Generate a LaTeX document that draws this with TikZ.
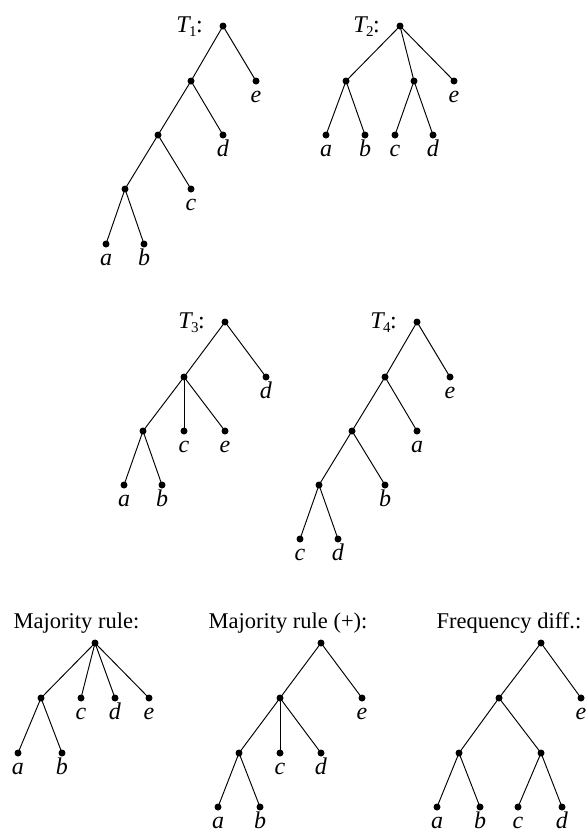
\documentclass[tikz,border=0pt]{standalone}
\usepackage{fontspec}
\setmainfont{Liberation Serif}
\usetikzlibrary{positioning}
\newcommand{\tname}[1]{\textit{T}\kern-0.08em\raisebox{-0.45ex}{\fontsize{15}{15}\selectfont #1}\kern-0.02em:}

\begin{document}
\begin{tikzpicture}[
    x=1pt, y=-1pt,
    font=\fontsize{22.5}{26}\selectfont,
    dot/.style={circle, fill, inner sep=0pt, minimum size=7pt},
    lab/.style={inner sep=0pt, text height=1ex, text depth=0pt, font=\fontsize{24}{28}\selectfont},
    leaf/.style={dot, label={[lab]below:\textit{#1}}},
    br/.style={line width=0.95pt},
    ttl/.style={inner sep=0pt, anchor=base east, font=\fontsize{24}{28}\selectfont},
    hd/.style={inner sep=0pt, anchor=base},
    label distance=13.5pt
  ]
  \useasboundingbox (0,0) rectangle (587,836);

  % T1
  \node[dot] (t1r) at (223,26) {};
  \node[dot] (t1x) at (191,81) {};
  \node[leaf=e] (t1e) at (256,81) {};
  \node[dot] (t1y) at (158,135) {};
  \node[leaf=d] (t1d) at (223,135) {};
  \node[dot] (t1z) at (125,189) {};
  \node[leaf=c] (t1c) at (191,189) {};
  \node[leaf=a] (t1a) at (106,244) {};
  \node[leaf=b] (t1b) at (144,244) {};
  \node[ttl] (t1lab) at ([xshift=-20pt,yshift=-6pt]t1r.center) {\tname{1}};

  % T2
  \node[dot] (t2r) at (400,26) {};
  \node[dot] (t2x) at (346,81) {};
  \node[dot] (t2y) at (414,81) {};
  \node[leaf=e] (t2e) at (454,81) {};
  \node[leaf=a] (t2a) at (326,135) {};
  \node[leaf=b] (t2b) at (365,135) {};
  \node[leaf=c] (t2c) at (395,135) {};
  \node[leaf=d] (t2d) at (433,135) {};
  \node[ttl] (t2lab) at ([xshift=-20pt,yshift=-6pt]t2r.center) {\tname{2}};

  % T3
  \node[dot] (t3r) at (225,322) {};
  \node[dot] (t3x) at (184,377) {};
  \node[leaf=d] (t3d) at (266,377) {};
  \node[dot] (t3y) at (143,431) {};
  \node[leaf=c] (t3c) at (184,431) {};
  \node[leaf=e] (t3e) at (225,431) {};
  \node[leaf=a] (t3a) at (124,485) {};
  \node[leaf=b] (t3b) at (162,485) {};
  \node[ttl] (t3lab) at ([xshift=-20pt,yshift=-6pt]t3r.center) {\tname{3}};

  % T4
  \node[dot] (t4r) at (417,322) {};
  \node[dot] (t4x) at (385,377) {};
  \node[leaf=e] (t4e) at (450,377) {};
  \node[dot] (t4y) at (352,431) {};
  \node[leaf=a] (t4a) at (417,431) {};
  \node[dot] (t4z) at (319,485) {};
  \node[leaf=b] (t4b) at (385,485) {};
  \node[leaf=c] (t4c) at (300,539) {};
  \node[leaf=d] (t4d) at (338,539) {};
  \node[ttl] (t4lab) at ([xshift=-20pt,yshift=-6pt]t4r.center) {\tname{4}};

  % consensus trees
  \node[hd] (mrlab) at (76.5,628) {Majority rule:};
  \node[dot] (mr) at (95,643) {};
  \node[dot] (mx) at (41,698) {};
  \node[leaf=c] (mc) at (81,698) {};
  \node[leaf=d] (md) at (115,698) {};
  \node[leaf=e] (me) at (149,698) {};
  \node[leaf=a] (ma) at (18,753) {};
  \node[leaf=b] (mb) at (62,753) {};

  \node[hd] (mplab) at (288,628) {Majority rule (+):};
  \node[dot] (pr) at (321,643) {};
  \node[dot] (px) at (280,698) {};
  \node[leaf=e] (pe) at (362,698) {};
  \node[dot] (py) at (239,753) {};
  \node[leaf=c] (pc) at (280,753) {};
  \node[leaf=d] (pd) at (321,753) {};
  \node[leaf=a] (pa) at (218,807) {};
  \node[leaf=b] (pb) at (260,807) {};

  \node[hd] (fdlab) at (509,628) {Frequency diff.:};
  \node[dot] (fr) at (541,643) {};
  \node[dot] (fx) at (499,698) {};
  \node[leaf=e] (fe) at (581,698) {};
  \node[dot] (fy) at (459,753) {};
  \node[dot] (fz) at (541,753) {};
  \node[leaf=a] (fa) at (437,807) {};
  \node[leaf=b] (fb) at (480,807) {};
  \node[leaf=c] (fc) at (518,807) {};
  \node[leaf=d] (fd) at (562,807) {};

  \foreach \p/\c in {t1r/t1x, t1r/t1e, t1x/t1y, t1x/t1d, t1y/t1z, t1y/t1c, t1z/t1a, t1z/t1b,
      t2r/t2x, t2r/t2y, t2r/t2e, t2x/t2a, t2x/t2b, t2y/t2c, t2y/t2d,
      t3r/t3x, t3r/t3d, t3x/t3y, t3x/t3c, t3x/t3e, t3y/t3a, t3y/t3b,
      t4r/t4x, t4r/t4e, t4x/t4y, t4x/t4a, t4y/t4z, t4y/t4b, t4z/t4c, t4z/t4d,
      mr/mx, mr/mc, mr/md, mr/me, mx/ma, mx/mb,
      pr/px, pr/pe, px/py, px/pc, px/pd, py/pa, py/pb,
      fr/fx, fr/fe, fx/fy, fx/fz, fy/fa, fy/fb, fz/fc, fz/fd} {
    \draw[br] (\p.center) -- (\c.center);
  }
\end{tikzpicture}
\end{document}
